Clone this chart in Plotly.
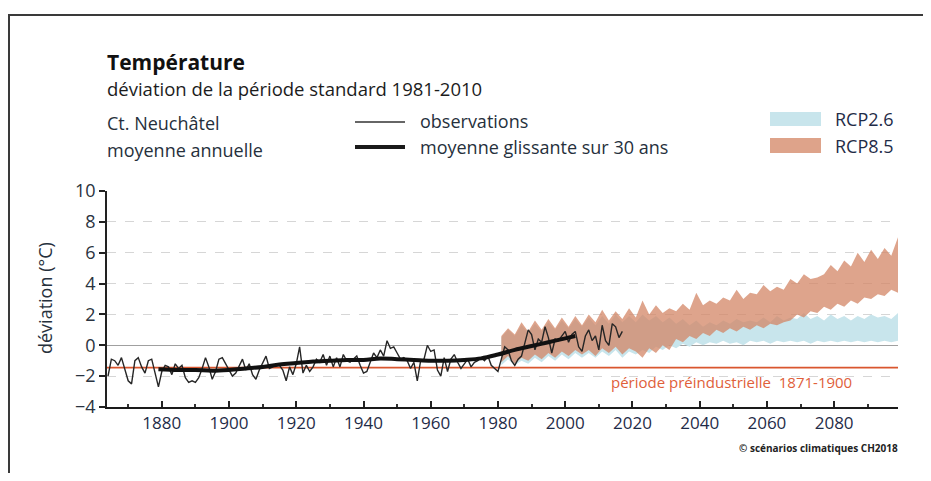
import plotly.graph_objects as go

# ---------------- data ----------------
obs_start = 1864
observations = [
    -2.0, -0.9, -1.0, -1.3, -0.8, -1.5,
    -2.3, -2.5, -1.0, -0.8, -1.4, -1.8, -1.0, -0.9, -1.8, -2.7,
    -1.7, -1.3, -1.4, -1.9, -1.2, -1.5, -1.3, -2.1, -2.4, -2.3,
    -2.4, -2.1, -1.5, -0.8, -1.4, -2.2, -1.7, -0.9, -0.8, -1.2,
    -1.6, -2.0, -1.8, -1.3, -0.9, -1.6, -1.2, -1.9, -2.2, -1.6,
    -1.2, -0.7, -1.5, -1.4, -1.2, -1.3, -1.6, -2.3, -1.4, -1.9,
    -1.2, -0.1, -1.8, -1.3, -1.7, -1.4, -0.9, -1.1, -0.6, -1.3,
    -0.7, -1.4, -0.8, -1.4, -0.6, -1.0, -1.1, -0.9, -0.7, -1.3,
    -1.8, -1.7, -1.1, -0.5, -0.8, -0.3, -0.7, 0.3, -0.2, -0.1,
    -0.5, -0.9, -0.8, -1.0, -1.5, -1.1, -2.3, -1.0, -0.9, 0.0,
    -0.4, -0.3, -1.6, -2.0, -0.8, -1.7, -0.9, -0.6, -1.1, -1.5,
    -1.2, -0.9, -1.4, -1.1, -1.0, -0.8, -1.0, -0.7, -1.3, -1.5,
    -1.7, -0.9, -0.1, -0.3, -1.0, -1.3, -0.9, -0.7, 0.2, 1.0,
    0.7, -0.3, 0.4, 0.2, 1.2, 0.5, -0.5, 0.4, 0.3, 0.6,
    0.9, 0.2, 0.7, 0.9, -0.1, -0.4, 0.6, 1.0, 0.3, 0.6,
    -0.3, 1.3, 0.3, 0.0, 1.4, 1.2, 0.5, 0.9,
]
obs_years = list(range(obs_start, obs_start + len(observations)))

ma_years = [1879, 1885, 1890, 1895, 1900, 1905, 1910, 1915, 1920, 1925, 1930,
            1935, 1940, 1945, 1950, 1955, 1960, 1965, 1970, 1975, 1980, 1985,
            1990, 1995, 2000, 2003]
ma_values = [-1.55, -1.6, -1.6, -1.65, -1.6, -1.5, -1.4, -1.25, -1.15, -1.05, -1.0,
             -0.95, -0.95, -0.85, -0.9, -0.95, -1.0, -1.0, -0.95, -0.85, -0.6, -0.3,
             -0.05, 0.2, 0.45, 0.6]

proj_years = list(range(1981, 2100, 2))
rcp85_high = [0.6, 1.1, 0.7, 1.5, 0.9, 1.6, 1.0, 1.7, 1.1, 1.8,
              1.2, 1.9, 1.3, 2.0, 1.5, 2.3, 1.6, 2.2, 1.7, 2.4,
              1.8, 2.9, 2.0, 2.6, 2.1, 2.4, 2.2, 2.7, 2.3, 3.4,
              2.6, 2.9, 2.7, 3.1, 2.9, 3.6, 3.0, 3.4, 3.3, 3.9,
              3.5, 3.8, 3.6, 4.3, 4.0, 4.6, 4.3, 4.4, 4.6, 5.2,
              4.8, 5.5, 5.1, 6.0, 5.4, 6.2, 5.6, 6.3, 5.8, 7.0]
rcp85_low = [-1.1, -0.7, -1.2, -0.8, -1.0, -0.6, -0.9, -0.5, -0.8, -0.4,
             -0.7, -0.3, -0.6, -0.3, -0.7, -0.2, -0.5, -0.1, -0.6, -0.2,
             -0.4, -0.8, -0.2, -0.5, 0.0, -0.3, 0.4, 0.2, 0.6, 0.4,
             0.8, 0.6, 1.0, 0.8, 1.1, 0.9, 1.2, 1.0, 1.3, 1.1,
             1.4, 1.3, 1.5, 1.6, 2.0, 1.8, 2.2, 2.1, 2.5, 2.3,
             2.7, 2.5, 2.9, 2.7, 3.1, 3.0, 3.3, 3.2, 3.6, 3.4]
rcp26_high = [0.5, 1.0, 0.6, 1.3, 0.8, 1.4, 0.9, 1.5, 1.0, 1.6,
              1.1, 1.7, 1.2, 1.8, 1.3, 1.9, 1.4, 2.0, 1.5, 1.9,
              1.5, 2.0, 1.6, 1.9, 1.5, 1.8, 1.4, 1.7, 1.3, 1.6,
              1.2, 1.5, 1.3, 1.6, 1.4, 1.7, 1.5, 1.6, 1.5, 1.8,
              1.5, 1.9, 1.6, 1.8, 1.7, 2.1, 1.7, 1.9, 1.6, 2.0,
              1.7, 1.9, 1.6, 1.9, 1.7, 2.0, 1.8, 1.9, 1.7, 2.1]
rcp26_low = [-1.3, -0.9, -1.3, -1.0, -1.2, -0.8, -1.1, -0.7, -1.0, -0.6,
             -0.9, -0.5, -0.8, -0.5, -0.8, -0.4, -0.7, -0.3, -0.8, -0.4,
             -0.6, -0.3, -0.5, -0.1, -0.3, 0.0, -0.2, 0.1, -0.1, 0.2,
             0.0, 0.2, 0.1, 0.3, 0.1, 0.2, 0.0, 0.3, 0.2, 0.3,
             0.1, 0.3, 0.2, 0.3, 0.2, 0.3, 0.1, 0.3, 0.2, 0.3,
             0.2, 0.3, 0.2, 0.3, 0.2, 0.3, 0.2, 0.3, 0.2, 0.3]

preindustrial = -1.45
x_ticks = [1880, 1900, 1920, 1940, 1960, 1980, 2000, 2020, 2040, 2060, 2080]
y_ticks = [-4, -2, 0, 2, 4, 6, 8, 10]

# ---------------- layout helpers ----------------
# the page body has an 8px margin on every side; keep the figure inside it
OFF = 8
W, H = 931 - 2 * OFF, 481 - 2 * OFF
PL, PR, PT, PB = 107, 898, 191, 407          # plot area in page pixels
L, R, T, B = PL - OFF, W + OFF - PR, PT - OFF, H + OFF - PB
FONT = "Open Sans"
TXT = "#26303c"


def px(x):
    return (x - PL) / (PR - PL)


def py(y):
    return (PB - y) / (PB - PT)


BLUE = "rgb(200,229,236)"
SALMON = "rgba(210,132,100,0.74)"

fig = go.Figure()
fig.add_trace(go.Scatter(
    x=proj_years + proj_years[::-1], y=rcp26_high + rcp26_low[::-1],
    fill="toself", fillcolor=BLUE, line=dict(width=0), mode="lines",
    hoverinfo="skip", showlegend=False))
fig.add_trace(go.Scatter(
    x=proj_years + proj_years[::-1], y=rcp85_high + rcp85_low[::-1],
    fill="toself", fillcolor=SALMON, line=dict(width=0), mode="lines",
    hoverinfo="skip", showlegend=False))
fig.add_trace(go.Scatter(
    x=[1863.7, 2099], y=[preindustrial, preindustrial], mode="lines",
    line=dict(color="#d9562e", width=1.6), showlegend=False))
fig.add_trace(go.Scatter(
    x=obs_years, y=observations, mode="lines",
    line=dict(color="#262626", width=1.4), showlegend=False))
fig.add_trace(go.Scatter(
    x=ma_years, y=ma_values, mode="lines", line_shape="spline",
    line=dict(color="#111111", width=4), showlegend=False))

fig.update_xaxes(
    range=[1863.7, 2099], tickvals=x_ticks, ticks="inside", ticklen=6,
    tickwidth=1.5, tickcolor="#222", showline=True, linecolor="#1a1a1a",
    linewidth=2, showgrid=False, zeroline=False,
    minor=dict(dtick=10, tick0=1870, ticks="inside", ticklen=3, tickcolor="#333"),
    tickfont=dict(family=FONT, size=17, color="#1f2c48"))
fig.update_yaxes(
    range=[-4, 10], tickvals=y_ticks, ticks="outside", ticklen=6,
    tickwidth=1.5, tickcolor="#222", showline=True, linecolor="#222",
    linewidth=1.5, showgrid=True, gridcolor="#d6d6d6", griddash="dash",
    gridwidth=1, zeroline=True, zerolinecolor="#a0a0a0", zerolinewidth=1.2,
    tickfont=dict(family=FONT, size=18, color="#2a3340"))

ann = []


def text(x, y, s, size=17, color=TXT, anchor="left", bold=False, **kw):
    ann.append(dict(
        x=px(x), y=py(y), xref="paper", yref="paper", text=f"<b>{s}</b>" if bold else s,
        showarrow=False, xanchor=anchor, yanchor="middle",
        font=dict(family=FONT, size=size, color=color), **kw))


text(105, 62, "Température", size=21, color="#111", bold=True)
text(105, 88, "déviation de la période standard 1981-2010", size=18.5, color="#1c1c1c")
text(105, 123, "Ct. Neuchâtel", size=18)
text(105, 150, "moyenne annuelle", size=18)
text(418, 121, "observations", size=18)
text(418, 147, "moyenne glissante sur 30 ans", size=18)
text(833, 119, "RCP2.6", size=18, color="#1f2c48")
text(833, 146, "RCP8.5", size=18, color="#1f2c48")
text(900, 448, "© scénarios climatiques CH2018", size=10, color="#222", anchor="right", bold=True)
text(45, 298, "déviation (°C)", size=18, anchor="center", textangle=-90)
ann.append(dict(x=2049.5, y=-2.35, xref="x", yref="y", text="période préindustrielle  1871-1900",
                showarrow=False, xanchor="center", yanchor="middle",
                font=dict(family=FONT, size=15, color="#e0603a")))

shapes = [
    dict(type="line", xref="paper", yref="paper", x0=px(8), x1=px(923), y0=py(15), y1=py(15),
         line=dict(color="#3a3a3a", width=2)),
    dict(type="line", xref="paper", yref="paper", x0=px(9), x1=px(9), y0=py(15), y1=py(473),
         line=dict(color="#3a3a3a", width=2)),
    dict(type="line", xref="paper", yref="paper", x0=px(355), x1=px(405), y0=py(122), y1=py(122),
         line=dict(color="#333", width=1.3)),
    dict(type="line", xref="paper", yref="paper", x0=px(355), x1=px(405), y0=py(147), y1=py(147),
         line=dict(color="#1a1a1a", width=4)),
    dict(type="rect", xref="paper", yref="paper", x0=px(770), x1=px(821), y0=py(112), y1=py(126),
         fillcolor=BLUE, line=dict(width=0)),
    dict(type="rect", xref="paper", yref="paper", x0=px(770), x1=px(821), y0=py(138), y1=py(153),
         fillcolor="#dea38a", line=dict(width=0)),
]

fig.update_layout(
    width=W, height=H, margin=dict(l=L, r=R, t=T, b=B),
    paper_bgcolor="white", plot_bgcolor="white",
    annotations=ann, shapes=shapes, showlegend=False,
    font=dict(family=FONT, color=TXT))

fig.write_html("out.html", config={"displayModeBar": False})
